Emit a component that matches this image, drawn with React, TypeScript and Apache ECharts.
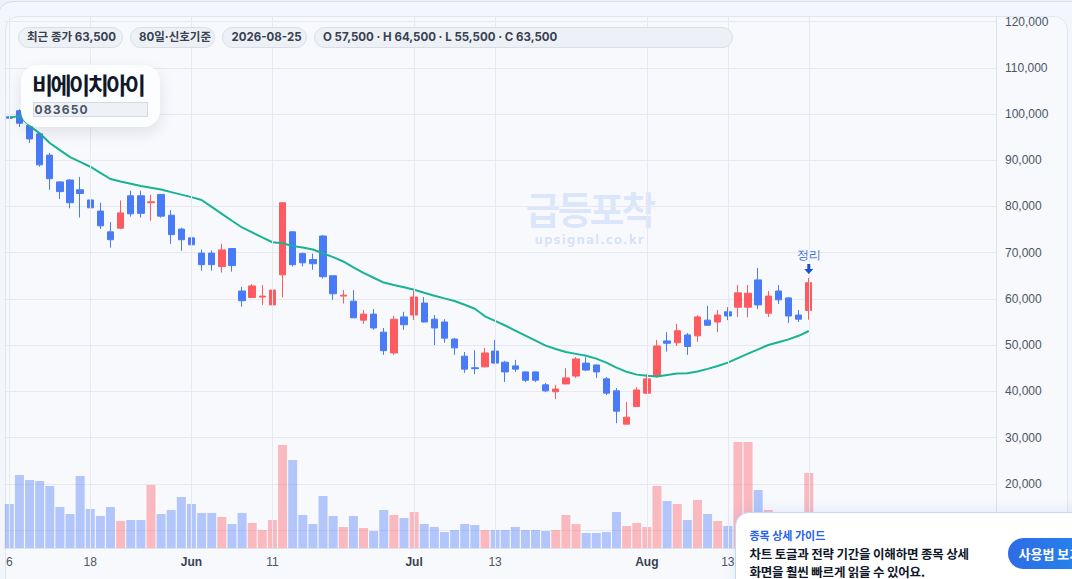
import React, { useEffect, useRef } from "react";
import * as echarts from "echarts";

// ---------- DATA ----------
const dates: string[] = [
  "2026-05-06", "2026-05-07", "2026-05-08", "2026-05-11", "2026-05-12", "2026-05-13", "2026-05-14", "2026-05-15",
  "2026-05-18", "2026-05-19", "2026-05-20", "2026-05-21", "2026-05-22", "2026-05-25", "2026-05-26", "2026-05-27",
  "2026-05-28", "2026-05-29", "2026-06-01", "2026-06-02", "2026-06-03", "2026-06-04", "2026-06-05", "2026-06-08",
  "2026-06-09", "2026-06-10", "2026-06-11", "2026-06-12", "2026-06-15", "2026-06-16", "2026-06-17", "2026-06-18",
  "2026-06-19", "2026-06-22", "2026-06-23", "2026-06-24", "2026-06-25", "2026-06-26", "2026-06-29", "2026-06-30",
  "2026-07-01", "2026-07-02", "2026-07-03", "2026-07-06", "2026-07-07", "2026-07-08", "2026-07-09", "2026-07-10",
  "2026-07-13", "2026-07-14", "2026-07-15", "2026-07-16", "2026-07-17", "2026-07-20", "2026-07-21", "2026-07-22",
  "2026-07-23", "2026-07-24", "2026-07-27", "2026-07-28", "2026-07-29", "2026-07-30", "2026-07-31", "2026-08-03",
  "2026-08-04", "2026-08-05", "2026-08-06", "2026-08-07", "2026-08-10", "2026-08-11", "2026-08-12", "2026-08-13",
  "2026-08-14", "2026-08-17", "2026-08-18", "2026-08-19", "2026-08-20", "2026-08-21", "2026-08-24", "2026-08-25",
];

const opens: number[] = [
  99400, 100700, 97500, 95700, 91100, 85300, 85700, 83600, 81400, 79000,
  74500, 75300, 82300, 82300, 80800, 82600, 78100, 75100, 73200, 69900,
  69900, 67000, 70900, 61700, 60300, 60400, 58700, 65200, 74500, 69800,
  68500, 73600, 65000, 60600, 59500, 55400, 56700, 52800, 48300, 56100,
  56500, 59100, 55600, 55000, 51300, 47600, 45100, 45300, 48700, 46300,
  45500, 44200, 44200, 41400, 39900, 41600, 43300, 46100, 45700, 42700,
  40100, 32900, 36700, 39600, 43200, 50900, 50500, 52200, 52000, 55400,
  55000, 57200, 58200, 58200, 64100, 56900, 61700, 60200, 56500, 57500,
];
const closes: number[] = [
  99100, 98000, 94600, 89000, 86000, 83200, 80800, 82800, 79700, 75800,
  72800, 78600, 78400, 78500, 81000, 77900, 73900, 72800, 71700, 67400,
  67400, 70600, 67200, 59600, 62800, 60600, 61900, 80800, 67400, 67800,
  67600, 64800, 61100, 60800, 55900, 56700, 53700, 48800, 55600, 54400,
  60400, 55000, 53700, 51500, 49400, 44800, 44900, 48300, 46100, 44200,
  44800, 42400, 42400, 40100, 40500, 42900, 47000, 44600, 44200, 39600,
  35700, 34400, 40300, 42700, 49800, 50400, 53100, 49700, 56100, 54300,
  56500, 56300, 61300, 61200, 58700, 60600, 59800, 56300, 55600, 63500,
];
const lows: number[] = [
  95900, 97200, 93700, 88600, 83600, 81600, 79600, 77600, 74500, 75100,
  71100, 75100, 77800, 77600, 76900, 77600, 71900, 70400, 70400, 66100,
  66100, 65700, 65900, 58300, 60200, 58700, 56900, 60300, 67000, 67000,
  66300, 64400, 59800, 59000, 55900, 54600, 53300, 47900, 47900, 53300,
  55400, 54900, 50000, 50500, 47900, 44000, 43700, 45200, 46000, 42000,
  44200, 42000, 42000, 39800, 38300, 41500, 42900, 44400, 42900, 39200,
  33100, 32900, 36600, 39400, 43000, 48600, 49800, 47900, 50700, 54200,
  52800, 55400, 56100, 56000, 57800, 56100, 58900, 54800, 55000, 55500,
];
const highs: number[] = [
  99600, 101000, 98000, 95800, 91600, 85400, 85900, 86400, 81500, 80800,
  76600, 81300, 83400, 83400, 82500, 82700, 79200, 75400, 74900, 70700,
  70500, 71900, 71000, 62600, 63200, 63000, 63000, 80800, 74700, 70000,
  69800, 73800, 65000, 61900, 61900, 57600, 57800, 53700, 56300, 57200,
  61700, 60400, 56500, 55600, 51500, 48500, 48900, 49400, 51100, 46600,
  46800, 44300, 44300, 41800, 41400, 45000, 47400, 47400, 45800, 43100,
  40700, 37700, 40900, 43700, 51100, 52800, 54600, 52600, 56500, 58500,
  57600, 58200, 63000, 63000, 66700, 61700, 63000, 60400, 57600, 64500,
];
const volumes: number[] = [
  440000, 730000, 680000, 670000, 620000, 410000, 340000, 720000, 390000, 320000,
  410000, 270000, 280000, 280000, 630000, 340000, 380000, 510000, 440000, 350000,
  350000, 310000, 240000, 350000, 250000, 180000, 280000, 1030000, 880000, 330000,
  240000, 520000, 320000, 210000, 320000, 200000, 170000, 380000, 330000, 300000,
  360000, 240000, 210000, 160000, 180000, 240000, 230000, 180000, 180000, 180000,
  210000, 180000, 180000, 170000, 180000, 330000, 240000, 150000, 150000, 160000,
  360000, 220000, 250000, 210000, 620000, 470000, 440000, 280000, 480000, 340000,
  270000, 220000, 1060000, 1060000, 580000, 380000, 220000, 260000, 180000, 750000,
];
const ma20: number[] = [
  99160, 99590, 97420, 95840, 93720, 92190, 90670, 89630, 88590, 87270,
  85930, 85400, 84910, 84420, 84050, 83680, 83100, 82550, 82010, 81390,
  79890, 78400, 76910, 75450, 74370, 73290, 72250, 72030, 71450, 71100,
  70670, 69850, 69030, 68090, 66820, 65610, 64570, 63530, 63010, 62510,
  61970, 61320, 60690, 60110, 59550, 58720, 57860, 56230, 55240, 54240,
  53140, 52060, 50980, 49890, 49140, 48490, 48100, 47710, 47080, 46210,
  45110, 44220, 43610, 43350, 43220, 43550, 43870, 43900, 44290, 44850,
  45480, 46210, 47190, 48160, 49090, 50020, 50630, 51230, 52010, 53050,
];

// x tick labels: [date, text, isMonth]
const xTickLabels: [string, string, boolean][] = [
  ["2026-05-06", "6", false],
  ["2026-05-18", "18", false],
  ["2026-06-01", "Jun", true],
  ["2026-06-11", "11", false],
  ["2026-07-01", "Jul", true],
  ["2026-07-13", "13", false],
  ["2026-08-03", "Aug", true],
  ["2026-08-13", "13", false],
];
// vertical grid lines (the last one's label sits under the guide popup)
const xGridDates: string[] = [
  "2026-05-06", "2026-05-18", "2026-06-01", "2026-06-11", "2026-07-01",
  "2026-07-13", "2026-08-03", "2026-08-13", "2026-08-25",
];
const yTicks: number[] = [10000, 20000, 30000, 40000, 50000, 60000, 70000, 80000, 90000, 100000, 110000, 120000];

const pills: string[] = ["최근 종가 63,500", "80일·신호기준", "2026-08-25", "O 57,500 · H 64,500 · L 55,500 · C 63,500"];
const signalText = "정리";

const UP = "#ff5a5f";
const DOWN = "#4a7bf7";
const UP_VOL = "rgba(255,91,95,0.40)";
const DOWN_VOL = "rgba(74,123,247,0.40)";

const UI_FONT = 'Inter, "Noto Sans CJK KR", sans-serif';
const KR_FONT = '"Noto Sans CJK KR", "Noto Sans", sans-serif';

export default function App() {
  const ref = useRef<HTMLDivElement>(null);

  useEffect(() => {
    document.body.style.margin = "0";
    const chart = echarts.init(ref.current as HTMLDivElement, null, { renderer: "svg" });
    const labelMap = new Map<string, { t: string; b: boolean }>();
    xTickLabels.forEach(([d, t, b]) => labelMap.set(d, { t, b }));
    const candleData = dates.map((_, i) => [opens[i], closes[i], lows[i], highs[i]]);
    const volData = dates.map((_, i) => ({
      value: volumes[i],
      itemStyle: { color: closes[i] >= opens[i] ? UP_VOL : DOWN_VOL },
    }));
    const last = dates.length - 1;

    chart.setOption({
      animation: false,
      grid: { left: 4.25, right: 76, top: 16, bottom: 31 },
      xAxis: {
        type: "category",
        data: dates,
        boundaryGap: true,
        max: 97,
        axisLine: { onZero: false, lineStyle: { color: "#dde3eb" } },
        axisTick: { show: false },
        splitLine: { show: false },
        axisLabel: {
          interval: (_idx: number, val: string) => labelMap.has(val),
          formatter: (val: string) => {
            const l = labelMap.get(val);
            if (!l) return "";
            return l.b ? `{b|${l.t}}` : l.t;
          },
          color: "#4b5563",
          fontSize: 12,
          margin: 8,
          rich: { b: { fontWeight: "bold", color: "#374151", fontSize: 12 } },
        },
      },
      yAxis: [
        {
          type: "value",
          position: "right",
          min: 6100,
          max: 121200,
          axisLine: { show: true, lineStyle: { color: "#dde3eb" } },
          axisTick: { show: false, customValues: yTicks },
          axisLabel: {
            customValues: yTicks,
            formatter: (v: number) => v.toLocaleString("en-US"),
            color: "#4b5563",
            fontSize: 12,
            margin: 9,
          },
          splitLine: { show: true, lineStyle: { color: "#e6eaf0", width: 1 } },
        },
        { type: "value", min: 0, max: 5320000, show: false, splitLine: { show: false } },
      ],
      series: [
        {
          type: "line",
          data: [],
          z: 1,
          silent: true,
          markLine: {
            silent: true,
            symbol: ["none", "none"],
            label: { show: false },
            lineStyle: { color: "#e6eaf0", width: 1, type: "solid" },
            data: xGridDates.map((d) => ({ xAxis: d })),
          },
        },
        {
          type: "bar",
          yAxisIndex: 1,
          data: volData,
          barWidth: "89%",
          z: 2,
        },
        {
          type: "candlestick",
          data: candleData,
          barWidth: "68%",
          z: 3,
          itemStyle: {
            color: UP,
            color0: DOWN,
            borderColor: UP,
            borderColor0: DOWN,
            borderWidth: 1,
          },
          markPoint: {
            silent: true,
            data: [
              {
                coord: [dates[last], highs[last]],
                symbol: "path://M3,0 L6,0 L6,5 L9,5 L4.5,10 L0,5 L3,5 Z",
                symbolSize: [9, 10],
                symbolOffset: [0, -9],
                itemStyle: { color: "#1d4ed8" },
                label: {
                  show: true,
                  formatter: signalText,
                  position: "top",
                  distance: 3,
                  color: "#3b6fd8",
                  fontSize: 12,
                },
              },
            ],
          },
        },
        {
          type: "line",
          data: ma20,
          z: 4,
          symbol: "none",
          smooth: false,
          lineStyle: { color: "#19b394", width: 2 },
        },
      ],
    });
    return () => chart.dispose();
  }, []);

  const pillLefts = [17.5, 129.5, 222, 313.5];
  const pillWidths = [105.5, 85, 85, 419];

  return (
    <div style={{ position: "fixed", left: 0, top: 0, width: 1072, height: 579, overflow: "hidden", background: "#eef2f7" }}>
      {/* outer card */}
      <div style={{ position: "absolute", left: -3, top: 1, width: 1090, height: 640, border: "1px solid #d8dfe9", borderRadius: 16, background: "#f3f6fa", boxSizing: "border-box" }} />
      {/* inner panel */}
      <div style={{ position: "absolute", left: 4.5, top: 15.5, width: 1063, height: 640, border: "1px solid #e2e7ef", borderRadius: 14, background: "#f7f9fd", boxSizing: "border-box" }} />
      {/* watermark */}
      <div style={{ position: "absolute", left: 489.5, top: 189, width: 200, height: 38, textAlign: "center", fontFamily: KR_FONT, fontWeight: 700, fontSize: 38, lineHeight: "38px", letterSpacing: -3, color: "rgba(37,99,235,0.13)", whiteSpace: "nowrap" }}>
        급등포착
      </div>
      <div style={{ position: "absolute", left: 489.5, top: 233, width: 200, height: 14, textAlign: "center", fontFamily: '"DejaVu Sans", sans-serif', fontWeight: 700, fontSize: 12, lineHeight: "14px", letterSpacing: 1, color: "rgba(37,99,235,0.16)", whiteSpace: "nowrap" }}>
        upsignal.co.kr
      </div>
      {/* chart */}
      <div ref={ref} style={{ position: "absolute", left: 0, top: 0, width: 1072, height: 579 }} />
      {/* pills */}
      {pills.map((p, i) => (
        <div
          key={i}
          style={{
            position: "absolute",
            left: pillLefts[i],
            top: 26.5,
            width: pillWidths[i],
            height: 21,
            boxSizing: "border-box",
            border: "1px solid #d9dfe8",
            background: "#edf1f6",
            borderRadius: 11,
            fontFamily: UI_FONT,
            fontWeight: 700,
            fontSize: 11.5,
            lineHeight: "19px",
            color: "#374151",
            paddingLeft: 8.5,
            whiteSpace: "nowrap",
            overflow: "hidden",
          }}
        >
          {p}
        </div>
      ))}
      {/* title card */}
      <div style={{ position: "absolute", left: 20.5, top: 65, width: 139.5, height: 62, borderRadius: 16, background: "#fcfdff", boxShadow: "0 6px 16px rgba(15,23,42,0.10)" }}>
        <div style={{ position: "absolute", left: 11.5, top: 5, fontFamily: KR_FONT, fontWeight: 700, fontSize: 23, lineHeight: "29px", letterSpacing: -2.6, color: "#111827", whiteSpace: "nowrap" }}>
          비에이치아이
        </div>
        <div style={{ position: "absolute", left: 12, top: 37.3, width: 115.5, height: 15, boxSizing: "border-box", border: "1px solid #d4dae3", background: "#eef1f6", fontFamily: UI_FONT, fontWeight: 700, fontSize: 12, lineHeight: "13px", letterSpacing: 1.2, color: "#4b5563", paddingLeft: 1 }}>
          083650
        </div>
      </div>
      {/* guide popup */}
      <div style={{ position: "absolute", left: 735, top: 511.5, width: 380, height: 110, boxSizing: "border-box", border: "1px solid #c6d6f6", borderRadius: 14, background: "#ffffff", boxShadow: "0 -2px 14px rgba(37,99,235,0.10)" }}>
        <div style={{ position: "absolute", left: 13.5, top: 15, fontFamily: KR_FONT, fontWeight: 700, fontSize: 11, lineHeight: "14px", color: "#2563eb", whiteSpace: "nowrap" }}>
          종목 상세 가이드
        </div>
        <div style={{ position: "absolute", left: 13.5, top: 32, fontFamily: KR_FONT, fontWeight: 700, fontSize: 12.5, lineHeight: "18.5px", letterSpacing: -0.2, color: "#0f172a", whiteSpace: "nowrap" }}>
          차트 토글과 전략 기간을 이해하면 종목 상세
          <br />
          화면을 훨씬 빠르게 읽을 수 있어요.
        </div>
        <div style={{ position: "absolute", left: 271.5, top: 25.5, width: 120, height: 31, borderRadius: 15.5, background: "linear-gradient(90deg, #2f6be6, #1e93f0)", color: "#ffffff", fontFamily: KR_FONT, fontWeight: 700, fontSize: 13, lineHeight: "31px", paddingLeft: 11, boxSizing: "border-box", whiteSpace: "nowrap" }}>
          사용법 보기
        </div>
      </div>
    </div>
  );
}
